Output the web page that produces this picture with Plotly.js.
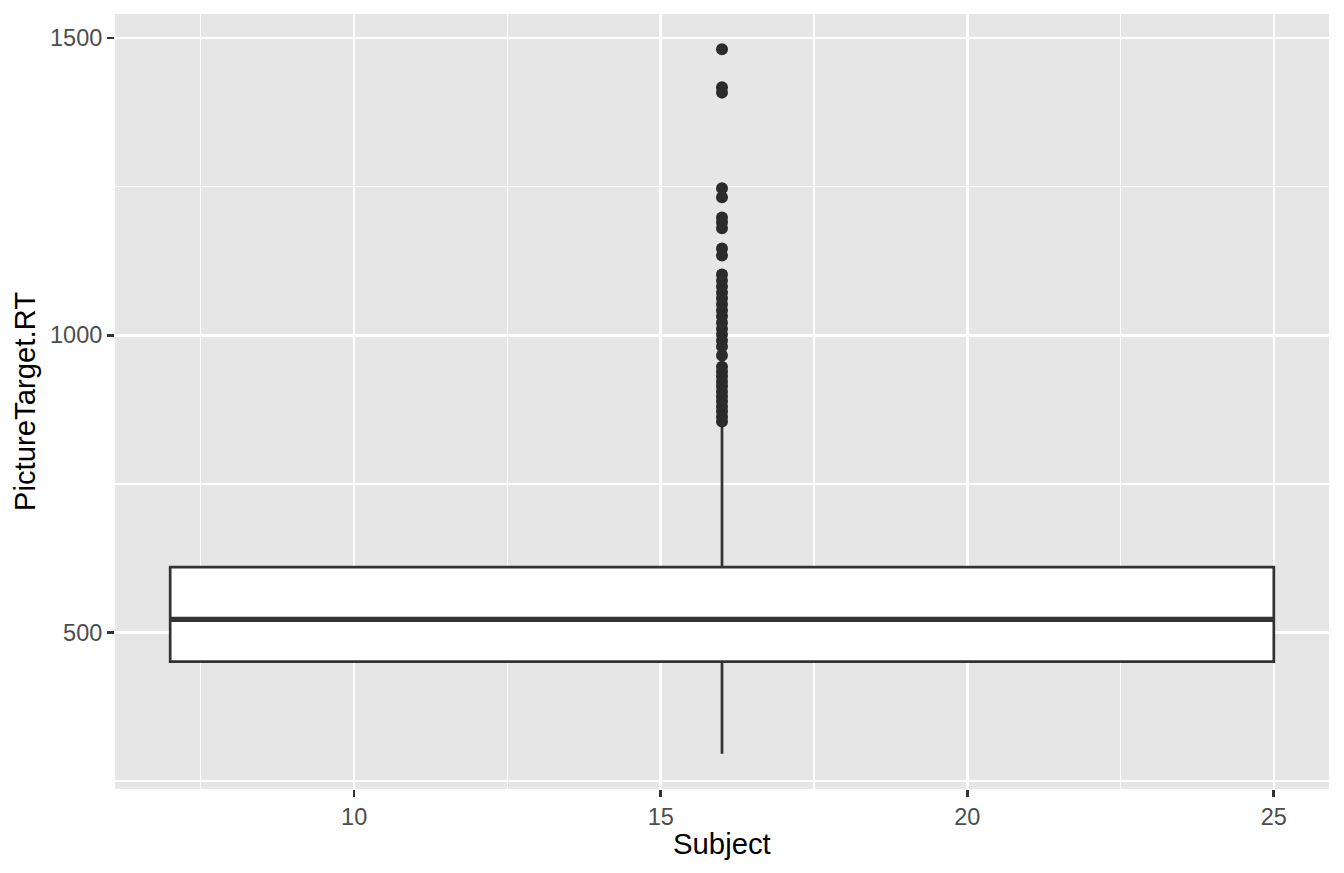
<!DOCTYPE html>
<html>
<head>
<meta charset="utf-8">
<script src="https://cdn.plot.ly/plotly-3.0.1.min.js"></script>
<style>html,body{margin:0;padding:0;background:#fff;}#chart{width:1344px;height:873px;}</style>
</head>
<body>
<div id="chart"></div>
<script>
// Box summary (all subjects pooled; x continuous "Subject")
var subjectMin = 7;
var subjectMax = 25;
var q1 = 451;
var median = 522;
var q3 = 610;
var lowerWhisker = 296;
var upperWhisker = 848;
// Outlier PictureTarget.RT values
var outliers = [1481, 1417, 1408, 1247, 1232, 1198, 1190, 1180, 1146, 1134,
  1102, 1092, 1082, 1072, 1062, 1052, 1042, 1032, 1021, 1011, 1001, 991, 981,
  966, 947, 939, 931, 922, 914, 905, 897, 889, 880, 872, 863, 855];
var xTicks = [10, 15, 20, 25];
var yTicks = [500, 1000, 1500];

var center = (subjectMin + subjectMax) / 2;
var span = subjectMax - subjectMin;

var dark = '#333333';
var traces = [
  {
    type: 'box',
    x: [center],
    q1: [q1], median: [median], q3: [q3],
    lowerfence: [lowerWhisker], upperfence: [upperWhisker],
    width: span,
    whiskerwidth: 0,
    fillcolor: 'white',
    line: {color: dark, width: 2.7},
    boxpoints: false,
    hoverinfo: 'skip',
    showlegend: false
  },
  {
    type: 'scatter', mode: 'lines',
    x: [subjectMin, subjectMax], y: [median, median],
    line: {color: dark, width: 5.2},
    hoverinfo: 'skip', showlegend: false
  },
  {
    type: 'scatter', mode: 'markers',
    x: outliers.map(function(){ return center; }),
    y: outliers,
    marker: {color: '#2b2b2b', size: 12, line: {width: 0}},
    showlegend: false
  }
];

var xPad = span * 0.05;
var yLo = lowerWhisker, yHi = Math.max.apply(null, outliers);
var yPad = (yHi - yLo) * 0.05;

var layout = {
  width: 1344, height: 873,
  paper_bgcolor: 'white',
  plot_bgcolor: '#E6E6E6',
  margin: {l: 115, r: 15, t: 14, b: 84},
  font: {family: 'Liberation Sans, Arial, sans-serif', color: '#4D4D4D'},
  showlegend: false,
  xaxis: {
    range: [subjectMin - xPad, subjectMax + xPad],
    tickvals: xTicks,
    ticktext: xTicks.map(String),
    ticks: 'outside', ticklen: 7, tickwidth: 2.7, tickcolor: dark,
    tickfont: {size: 23.5, color: '#4D4D4D'},
    showgrid: true, gridcolor: 'white', gridwidth: 2.6,
    minor: {tickvals: [7.5, 12.5, 17.5, 22.5], showgrid: true, gridcolor: 'white', gridwidth: 1.3},
    zeroline: false, showline: false,
    automargin: false
  },
  yaxis: {
    range: [yLo - yPad, yHi + yPad],
    tickvals: yTicks,
    ticktext: yTicks.map(String),
    ticks: 'outside', ticklen: 7, tickwidth: 2.7, tickcolor: dark,
    tickfont: {size: 23.5, color: '#4D4D4D'},
    showgrid: true, gridcolor: 'white', gridwidth: 2.6,
    minor: {tickvals: [250, 750, 1250], showgrid: true, gridcolor: 'white', gridwidth: 1.3},
    zeroline: false, showline: false,
    automargin: false,
    title: {text: 'PictureTarget.RT', font: {size: 29.3, color: '#000000'}, standoff: 5}
  },
  annotations: [{
    text: 'Subject', xref: 'paper', yref: 'paper', x: 0.5, y: 0,
    xanchor: 'center', yanchor: 'bottom', yshift: -73, showarrow: false,
    font: {size: 29.3, color: '#000000', family: 'Liberation Sans, Arial, sans-serif'}
  }]
};

Plotly.newPlot('chart', traces, layout, {displayModeBar: false, staticPlot: true});
</script>
</body>
</html>
